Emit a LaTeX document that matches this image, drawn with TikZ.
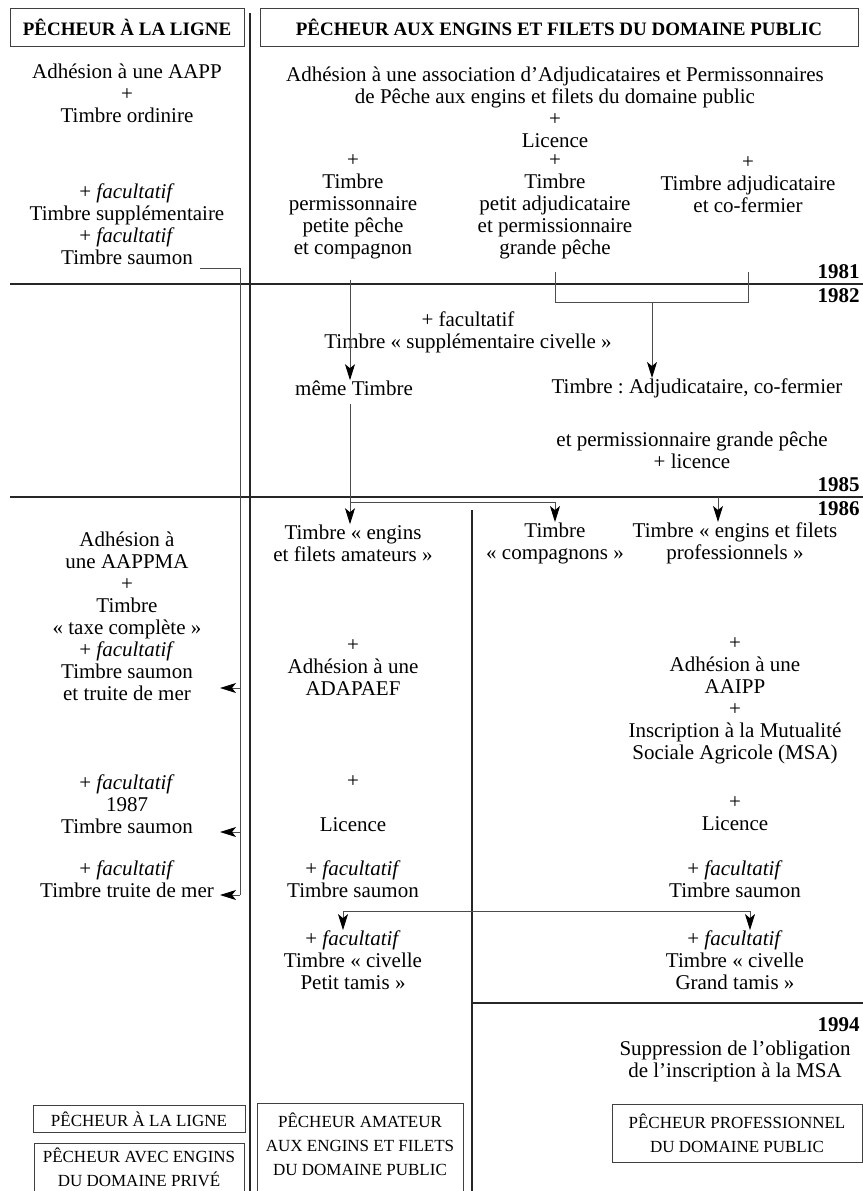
\documentclass[tikz,border=0pt]{standalone}
\usepackage{fontspec}
\setmainfont{Liberation Serif}
\usetikzlibrary{arrows.meta}
\frenchspacing

\newcommand{\txtsize}{\fontsize{10.5}{11}\selectfont}
\newcommand{\tagsize}{\fontsize{8.5}{12}\selectfont}
\newcommand{\fac}{+ \textit{facultatif}}

\begin{document}
\begin{tikzpicture}[x=0.5pt,y=-0.5pt,
        txt/.style={font=\txtsize, align=center, inner sep=0pt},
        head/.style={draw=black!75, line width=0.5pt, font=\bfseries\fontsize{9.5}{11}\selectfont, inner sep=0pt, minimum height=19pt},
        year/.style={font=\bfseries\txtsize, anchor=east, inner sep=0pt},
        tag/.style={draw=black!75, line width=0.5pt, font=\tagsize, align=center, inner xsep=0pt},
        sep/.style={line width=1.1pt, black!85},
        conn/.style={line width=0.5pt, black!70},
        >={Stealth[length=8pt,width=5pt,inset=2pt,black]}]

    \useasboundingbox (0,0) rectangle (863,1191);
    \clip (0,0) rectangle (863,1191);

    % headers
    \node[head, minimum width=117pt] (hl) at (127,27) {PÊCHEUR À LA LIGNE};
    \node[head, minimum width=299pt] (hr) at (559,27) {PÊCHEUR AUX ENGINS ET FILETS DU DOMAINE PUBLIC};

    % time lines
    \draw[sep] (250,13) -- (250,1191);
    \draw[sep] (10,284) -- (863,284);
    \draw[sep] (10,497) -- (863,497);
    \draw[sep] (472,510) -- (472,1191);
    \draw[sep] (472,1003) -- (863,1003);

    \node[year] (y81) at (860,272) {1981};
    \node[year] (y82) at (860,296) {1982};
    \node[year] (y85) at (860,485) {1985};
    \node[year] (y86) at (860,509) {1986};
    \node[year] (y94) at (860,1025) {1994};

    \begin{scope}[every node/.style={txt}]
        % before 1981
        \node (la1) at (127,93)  {Adhésion à une AAPP\\+\\Timbre ordinire};
        \node (la2) at (127,224) {\fac\\Timbre supplémentaire\\\fac\\Timbre saumon};

        \node (ra) at (555,107) {Adhésion à une association d’Adjudicataires et Permissonnaires\\de Pêche aux engins et filets du domaine public\\+\\Licence};
        \node (ta) at (353,207) {+\\Timbre\\permissonnaire\\petite pêche\\et compagnon};
        \node (tb) at (555,207) {+\\Timbre\\petit adjudicataire\\et permissionnaire\\grande pêche};
        \node (tc) at (748,185) {+\\Timbre adjudicataire\\et co-fermier};

        % 1982 - 1985
        \node (civ)  at (468,332) {+ facultatif\\Timbre « supplémentaire civelle »};
        \node (meme) at (354,388) {même Timbre};
        \node (adj)  at (697,388) {Timbre : Adjudicataire, co-fermier};
        \node (gp)   at (692,450) {et permissionnaire grande pêche\\+ licence};

        % from 1986
        \node (lb1) at (127,616) {Adhésion à\\une AAPPMA\\+\\Timbre\\« taxe complète »\\\fac\\Timbre saumon\\et truite de mer};
        \node (lb2) at (127,804) {\fac\\1987\\Timbre saumon};
        \node (lb3) at (127,879) {\fac\\Timbre truite de mer};

        \node (eng) at (353,543) {Timbre « engins\\et filets amateurs »};
        \node (aa2) at (353,668) {+\\Adhésion à une\\ADAPAEF};
        \node (aa3) at (353,804) {+\\[11pt]Licence};
        \node (aa4) at (353,879) {\fac\\Timbre saumon};
        \node (aa5) at (353,960) {\fac\\Timbre « civelle\\Petit tamis »};

        \node (cp) at (555,543) {Timbre\\« compagnons »};

        \node (pf)  at (735,543) {Timbre « engins et filets\\professionnels »};
        \node (cc1) at (735,701) {+\\Adhésion à une\\AAIPP\\+\\Inscription à la Mutualité\\Sociale Agricole (MSA)};
        \node (cc2) at (735,814) {+\\Licence};
        \node (cc3) at (735,879) {\fac\\Timbre saumon};
        \node (cc4) at (735,960) {\fac\\Timbre « civelle\\Grand tamis »};

        \node (sup) at (735,1061) {Suppression de l’obligation\\de l’inscription à la MSA};
    \end{scope}

    % bottom tags
    \node[tag, minimum width=106pt, minimum height=13.5pt, inner ysep=0pt] (bl1) at (139,1119) {PÊCHEUR À LA LIGNE};
    \node[tag, minimum width=105pt, anchor=north, inner ysep=2pt, text depth=30pt] (bl2) at (139,1143) {PÊCHEUR AVEC ENGINS\\DU DOMAINE PRIVÉ};
    \node[tag, minimum width=103pt, anchor=north, inner ysep=4.5pt, text depth=30pt] (bm) at (360,1103) {PÊCHEUR AMATEUR\\AUX ENGINS ET FILETS\\DU DOMAINE PUBLIC};
    \node[tag, minimum width=125pt, minimum height=29pt, inner ysep=0pt] (bp) at (737,1133) {PÊCHEUR PROFESSIONNEL\\DU DOMAINE PUBLIC};

    % connectors
    \coordinate (a) at (350,0);
    \coordinate (btop) at (0,272);
    \coordinate (bk) at (652,302);
    \coordinate (br) at (350,502);
    \coordinate (pk) at (718,497);
    \coordinate (cv) at (546,911);
    \coordinate (saum) at (200,268);
    \coordinate (t1) at (240,688);
    \coordinate (t2) at (240,832);
    \coordinate (t3) at (240,895);

    \draw[conn] (saum) -| (t3);
    \foreach \t in {t1,t2,t3}
        \draw[conn,->] (\t) -- ++(-20,0);

    \draw[conn,->,shorten <=10pt] (ta.south -| a) -- (meme.north -| a);
    \draw[conn,->,shorten <=4pt] (meme.south -| a) -- (eng.north -| a);
    \draw[conn,->] (br) -| (cp.north);

    \draw[conn] (tb.south |- btop) |- (bk) -| (tc.south |- btop);
    \draw[conn,->] (bk) -- (adj.north -| bk);

    \draw[conn,->] (pk) -- (pf.north -| pk);

    \draw[conn,<->] ([xshift=-5pt]aa5.north) |- (cv) -| ([xshift=7.5pt]cc4.north);

\end{tikzpicture}
\end{document}
